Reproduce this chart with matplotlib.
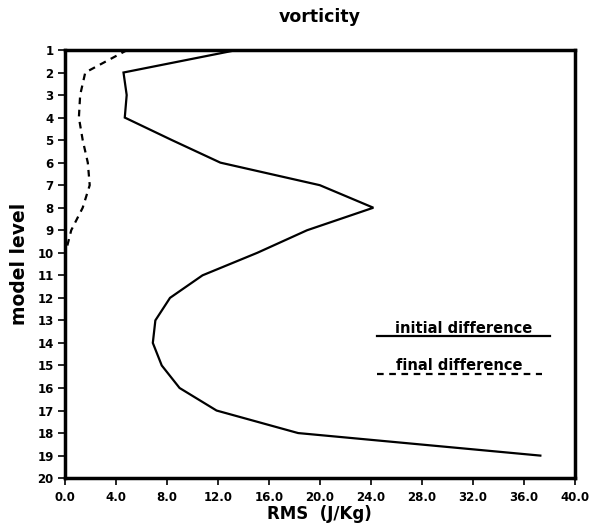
import matplotlib
matplotlib.use("Agg")
import matplotlib.pyplot as plt
from matplotlib.lines import Line2D

levels = list(range(1, 20))
initial_diff = [13.5, 4.6, 4.85, 4.7, 8.4, 12.2, 20.0, 24.2, 19.0, 15.1,
                10.8, 8.25, 7.1, 6.9, 7.6, 9.0, 11.9, 18.3, 37.3]
final_levels = list(range(1, 21))
final_diff = [4.9, 1.6, 1.2, 1.1, 1.4, 1.8, 1.95, 1.4, 0.5, 0.05,
              0.0, 0.0, 0.0, 0.0, 0.0, 0.0, 0.0, 0.0, 0.0, 0.0]
xticks = [0, 4, 8, 12, 16, 20, 24, 28, 32, 36, 40]
xticklabels = ["0.0", "4.0", "8.0", "12.0", "16.0", "20.0", "24.0",
               "28.0", "32.0", "36.0", "40.0"]
yticks = list(range(1, 21))

plt.rcParams['font.family'] = ['DejaVu Sans']

fig = plt.figure(figsize=(5.95, 5.26), dpi=100)
ax = fig.add_axes([0.109, 0.091, 0.857, 0.814])

ax.plot(initial_diff, levels, color='black', lw=1.6, solid_joinstyle='miter')
ax.plot(final_diff, final_levels, color='black', lw=1.6, linestyle=(0, (3, 2.5)))

ax.set_xlim(0, 40)
ax.set_ylim(20, 1)
ax.set_xticks(xticks)
ax.set_xticklabels(xticklabels)
ax.set_yticks(yticks)
ax.set_yticklabels([str(v) for v in yticks])
ax.tick_params(direction='out', length=5, width=1.2, labelsize=8.5, pad=3)
for lbl in ax.get_xticklabels() + ax.get_yticklabels():
    lbl.set_fontweight('bold')
ax.tick_params(axis='x', pad=4)

for sp in ax.spines.values():
    sp.set_linewidth(2.5)

ax.set_title("vorticity", fontsize=12.5, fontweight='bold', pad=20)
ax.set_xlabel("RMS  (J/Kg)", fontsize=12, fontweight='bold', labelpad=1)
ax.set_ylabel("model level", fontsize=13.5, fontweight='bold', labelpad=6)

# legend-like annotations
ax.add_line(Line2D([0.612, 0.951], [0.333, 0.333], transform=ax.transAxes,
                   color='black', lw=1.6))
ax.text(0.783, 0.340, "initial difference", transform=ax.transAxes,
        ha='center', va='baseline', fontsize=10.5, fontweight='bold')
ax.add_line(Line2D([0.612, 0.935], [0.243, 0.243], transform=ax.transAxes,
                   color='black', lw=1.6, linestyle=(0, (3, 2.5))))
ax.text(0.773, 0.252, "final difference", transform=ax.transAxes,
        ha='center', va='baseline', fontsize=10.5, fontweight='bold')

fig.savefig("out.png", dpi=100)
